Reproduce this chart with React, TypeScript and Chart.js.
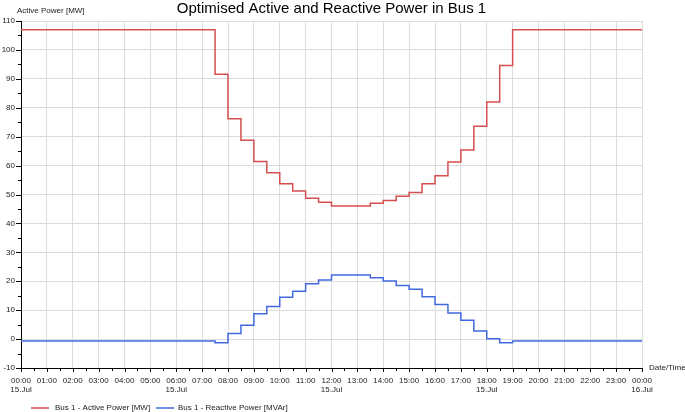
import React, { useEffect, useRef } from 'react';
import { Chart, registerables } from 'chart.js';

Chart.register(...registerables);

const TITLE = 'Optimised Active and Reactive Power in Bus 1';
const Y_TITLE = 'Active Power [MW]';
const X_TITLE = 'Date/Time';
const SERIES_NAMES = ['Bus 1 - Active Power [MW]', 'Bus 1 - Reactive Power [MVAr]'];
const SERIES_COLORS = ['rgb(214, 78, 78)', 'rgb(66, 106, 222)'];

// start of each half-hour interval (15.Jul), plus the end of the day
const TIME_SLOTS = [
  '00:00', '00:30', '01:00', '01:30', '02:00', '02:30', '03:00', '03:30',
  '04:00', '04:30', '05:00', '05:30', '06:00', '06:30', '07:00', '07:30',
  '08:00', '08:30', '09:00', '09:30', '10:00', '10:30', '11:00', '11:30',
  '12:00', '12:30', '13:00', '13:30', '14:00', '14:30', '15:00', '15:30',
  '16:00', '16:30', '17:00', '17:30', '18:00', '18:30', '19:00', '19:30',
  '20:00', '20:30', '21:00', '21:30', '22:00', '22:30', '23:00', '23:30',
  '24:00',
];

const ACTIVE_POWER = [
  107, 107, 107, 107, 107, 107, 107, 107,
  107, 107, 107, 107, 107, 107, 107, 91.6,
  76.2, 68.8, 61.4, 57.5, 53.7, 51.2, 48.7, 47.3,
  46, 46, 46, 47, 47.9, 49.4, 50.7, 53.7,
  56.5, 61.2, 65.4, 73.6, 82, 94.6, 107, 107,
  107, 107, 107, 107, 107, 107, 107, 107,
];

const REACTIVE_POWER = [
  -0.7, -0.7, -0.7, -0.7, -0.7, -0.7, -0.7, -0.7,
  -0.7, -0.7, -0.7, -0.7, -0.7, -0.7, -0.7, -1.3,
  1.9, 4.8, 8.8, 11.3, 14.5, 16.5, 19.1, 20.4,
  22.2, 22.2, 22.2, 21.2, 20.1, 18.5, 17.2, 14.6,
  12, 9, 6.5, 2.8, 0.1, -1.3, -0.7, -0.7,
  -0.7, -0.7, -0.7, -0.7, -0.7, -0.7, -0.7, -0.7,
];

const HOUR_TICK_LABELS = [
  '00:00', '01:00', '02:00', '03:00', '04:00', '05:00', '06:00', '07:00',
  '08:00', '09:00', '10:00', '11:00', '12:00', '13:00', '14:00', '15:00',
  '16:00', '17:00', '18:00', '19:00', '20:00', '21:00', '22:00', '23:00',
  '00:00',
];
const DATE_TICK_HOURS = [0, 6, 12, 18, 24];
const DATE_TICK_LABELS = ['15.Jul', '15.Jul', '15.Jul', '15.Jul', '16.Jul'];

const Y_MIN = -10;
const Y_MAX = 110;

const FONT = "'Liberation Sans', Arial, sans-serif";

const toHours = (s: string) => {
  const [h, m] = s.split(':').map(Number);
  return h + m / 60;
};

const toPoints = (values: number[]) => {
  const pts = values.map((v, i) => ({ x: toHours(TIME_SLOTS[i]), y: v }));
  pts.push({ x: toHours(TIME_SLOTS[TIME_SLOTS.length - 1]), y: values[values.length - 1] });
  return pts;
};

const decorPlugin = {
  id: 'decor',
  afterDraw(chart: any) {
    const { ctx, chartArea, scales } = chart;
    const xs = scales.x;
    const ys = scales.y;
    ctx.save();
    // axis tick marks
    ctx.strokeStyle = '#000';
    ctx.lineWidth = 1;
    ctx.beginPath();
    for (let i = 0; i < TIME_SLOTS.length; i++) {
      const h = toHours(TIME_SLOTS[i]);
      const px = Math.round(xs.getPixelForValue(h)) + 0.5;
      const len = Number.isInteger(h) ? 4 : 3;
      ctx.moveTo(px, chartArea.bottom);
      ctx.lineTo(px, chartArea.bottom + len);
    }
    for (let v = Y_MIN; v <= Y_MAX; v += 5) {
      const py = Math.round(ys.getPixelForValue(v)) + 0.5;
      const len = v % 10 === 0 ? 5 : 3;
      ctx.moveTo(chartArea.left, py);
      ctx.lineTo(chartArea.left - len, py);
    }
    ctx.stroke();

    // title
    ctx.fillStyle = '#000';
    ctx.font = `15px ${FONT}`;
    ctx.textAlign = 'center';
    ctx.textBaseline = 'alphabetic';
    ctx.fillText(TITLE, (chartArea.left + chartArea.right) / 2, 13);

    // axis titles
    ctx.fillStyle = '#222';
    ctx.font = `8px ${FONT}`;
    ctx.textAlign = 'left';
    ctx.textBaseline = 'middle';
    ctx.fillText(Y_TITLE, 17, 11);
    ctx.fillText(X_TITLE, chartArea.right + 7, chartArea.bottom);

    // legend
    const legendY = 408;
    const items = [
      { x: 31, tx: 55 },
      { x: 156, tx: 178 },
    ];
    items.forEach((it, i) => {
      ctx.strokeStyle = SERIES_COLORS[i];
      ctx.lineWidth = 1.5;
      ctx.beginPath();
      ctx.moveTo(it.x, legendY);
      ctx.lineTo(it.x + 18, legendY);
      ctx.stroke();
      ctx.fillStyle = '#222';
      ctx.fillText(SERIES_NAMES[i], it.tx, legendY);
    });
    ctx.restore();
  },
};

export default function App() {
  const ref = useRef<HTMLCanvasElement | null>(null);

  useEffect(() => {
    if (!ref.current) return;
    const chart = new Chart(ref.current, {
      type: 'line',
      data: {
        datasets: [
          {
            label: SERIES_NAMES[0],
            data: toPoints(ACTIVE_POWER),
            borderColor: SERIES_COLORS[0],
            backgroundColor: SERIES_COLORS[0],
            borderWidth: 1.5,
            pointRadius: 0,
            stepped: 'before',
            fill: false,
          },
          {
            label: SERIES_NAMES[1],
            data: toPoints(REACTIVE_POWER),
            borderColor: SERIES_COLORS[1],
            backgroundColor: SERIES_COLORS[1],
            borderWidth: 1.5,
            pointRadius: 0,
            stepped: 'before',
            fill: false,
          },
        ],
      },
      options: {
        responsive: false,
        animation: false,
        devicePixelRatio: 1,
        layout: { padding: { top: 21, right: 43, bottom: 0, left: 0 } },
        plugins: {
          legend: { display: false },
          title: { display: false },
          tooltip: { enabled: false },
        },
        scales: {
          x: {
            type: 'linear',
            min: 0,
            max: 24,
            afterFit: (s: any) => {
              s.height = 44;
            },
            ticks: {
              stepSize: 1,
              autoSkip: false,
              maxRotation: 0,
              minRotation: 0,
              padding: 8,
              color: '#222',
              font: { size: 8, family: FONT, lineHeight: 1.15 },
              callback: (value: any) => {
                const h = Math.round(Number(value));
                const label = HOUR_TICK_LABELS[h];
                const di = DATE_TICK_HOURS.indexOf(h);
                return di >= 0 ? [label, DATE_TICK_LABELS[di]] : label;
              },
            },
            grid: { color: '#dcdcdc', lineWidth: 1, drawTicks: false },
            border: { color: '#000', width: 1 },
          },
          y: {
            min: Y_MIN,
            max: Y_MAX,
            afterFit: (s: any) => {
              s.width = 21;
            },
            ticks: {
              stepSize: 10,
              padding: 6,
              color: '#222',
              font: { size: 8, family: FONT },
            },
            grid: { color: '#dcdcdc', lineWidth: 1, drawTicks: false },
            border: { color: '#000', width: 1 },
          },
        },
      },
      plugins: [decorPlugin],
    } as any);
    return () => chart.destroy();
  }, []);

  return (
    <div style={{ position: 'absolute', left: 0, top: 0, width: 685, height: 412, background: '#fff' }}>
      <canvas ref={ref} width={685} height={412} />
    </div>
  );
}
